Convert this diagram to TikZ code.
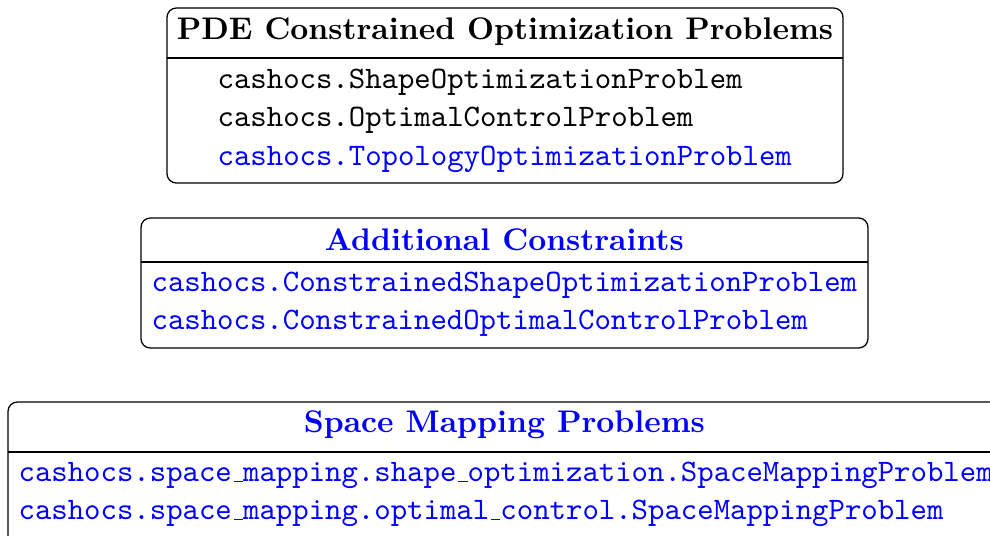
\documentclass[tikz,border=0pt]{standalone}
\usepackage{fontspec}
\newcommand\myusc{\leavevmode\kern.06em\vbox{\hrule width.3em}}
\begin{document}
\begin{tikzpicture}[x=1pt,y=1pt,
  frame/.style={draw=black, line width=0.4pt, rounded corners=3pt},
  sep/.style={draw=black, line width=0.4pt},
  ttl/.style={anchor=base, inner sep=0pt, font=\normalsize\bfseries},
  item/.style={anchor=base west, inner sep=0pt, font=\normalsize\ttfamily}]
\useasboundingbox (0,0) rectangle (316.8,171.52);
\clip (0,0) rectangle (316.8,171.52);
% Box 1
\draw[frame] (53.44,112.96) rectangle (269.76,168.96);
\draw[sep] (53.44,152.96) -- (269.76,152.96);
\node[ttl] (t1) at (161.6,158.72) {PDE Constrained Optimization Problems};
\node[item] (a1) at (69.44,143.04) {cashocs.ShapeOptimizationProblem};
\node[item] (a2) at (69.44,130.88) {cashocs.OptimalControlProblem};
\node[item, text=blue] (a3) at (69.44,118.4) {cashocs.TopologyOptimizationProblem};
% Box 2
\draw[frame] (45.12,60.16) rectangle (277.76,101.76);
\draw[sep] (45.12,87.68) -- (277.76,87.68);
\node[ttl, text=blue] (t2) at (161.4,91.2) {Additional Constraints};
\node[item, text=blue] (b1) at (48.32,78.08) {cashocs.ConstrainedShapeOptimizationProblem};
\node[item, text=blue] (b2) at (48.32,65.92) {cashocs.ConstrainedOptimalControlProblem};
% Box 3
\draw[frame] (2.56,-10) rectangle (325,42.88);
\draw[sep] (2.56,26.88) -- (325,26.88);
\node[ttl, text=blue] (t3) at (161.4,32.96) {Space Mapping Problems};
\node[item, text=blue] (c1) at (5.76,17.28) {cashocs.space\myusc mapping.shape\myusc optimization.SpaceMappingProblem};
\node[item, text=blue] (c2) at (5.76,5.12) {cashocs.space\myusc mapping.optimal\myusc control.SpaceMappingProblem};
\end{tikzpicture}
\end{document}
